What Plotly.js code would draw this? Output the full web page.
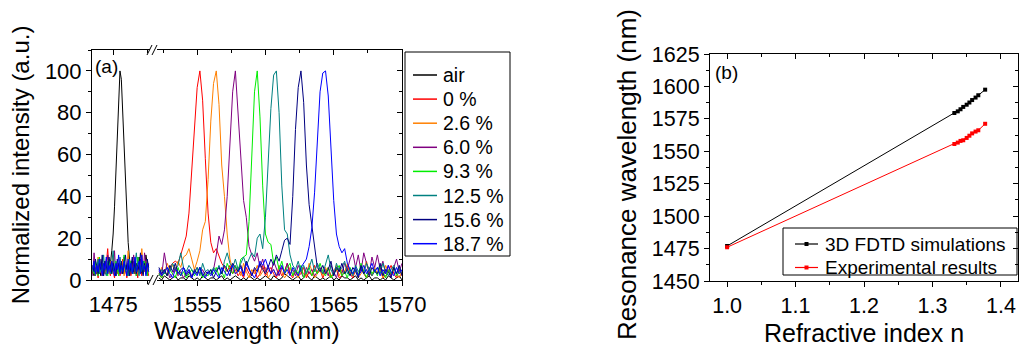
<!DOCTYPE html>
<html>
<head>
<meta charset="utf-8">
<script src="https://cdn.plot.ly/plotly-3.0.1.min.js"></script>
<style>html,body{margin:0;padding:0;background:#fff;}#chart{width:1019px;height:347px;}</style>
</head>
<body>
<div id="chart"></div>
<script>
// ---------- (a) spectra ----------
const seriesNames = ["air", "0 %", "2.6 %", "6.0 %", "9.3 %", "12.5 %", "15.6 %", "18.7 %"];
const seriesColors = ["#000000", "#ff0000", "#ff8000", "#800080", "#00ee00", "#008080", "#000080", "#0000ff"];

// wavelengths of the left (air) segment, nm
const wlAir = [1473.5,1473.6,1473.7,1473.8,1473.9,1474.0,1474.1,1474.2,1474.3,1474.4,
  1474.5,1474.6,1474.7,1474.8,1474.9,1475.0,1475.1,1475.2,1475.3,1475.4,
  1475.5,1475.6,1475.7,1475.8,1475.9,1476.0,1476.1,1476.2,1476.3,1476.4,
  1476.5,1476.6,1476.7,1476.8,1476.9,1477.0,1477.1,1477.2,1477.3,1477.4,1477.5,1477.6];
// wavelengths of the right (solution) segment, nm
const wlShift = [1552.2,1552.4,1552.6,1552.8,1553.0,1553.2,1553.4,1553.6,1553.8,1554.0,
  1554.2,1554.4,1554.6,1554.8,1555.0,1555.2,1555.4,1555.6,1555.8,1556.0,
  1556.2,1556.4,1556.6,1556.8,1557.0,1557.2,1557.4,1557.6,1557.8,1558.0,
  1558.2,1558.4,1558.6,1558.8,1559.0,1559.2,1559.4,1559.6,1559.8,1560.0,
  1560.2,1560.4,1560.6,1560.8,1561.0,1561.2,1561.4,1561.6,1561.8,1562.0,
  1562.2,1562.4,1562.6,1562.8,1563.0,1563.2,1563.4,1563.6,1563.8,1564.0,
  1564.2,1564.4,1564.6,1564.8,1565.0,1565.2,1565.4,1565.6,1565.8,1566.0,
  1566.2,1566.4,1566.6,1566.8,1567.0,1567.2,1567.4,1567.6,1567.8,1568.0,
  1568.2,1568.4,1568.6,1568.8,1569.0,1569.2,1569.4,1569.6,1569.8,1570.0];

// intensities on the left segment
const airL    = [4,2,6,3,8,5,2,7,4,9, 6,3,10,8,14,22,35,52,70,86, 100,96,80,60,42,28,18,10,6,9, 5,3,8,4,11,6,3,9,5,12,7,4];
const c0L     = [3,7,2,5,1,9,4,2,6,3, 8,15,5,2,7,4,1,6,3,8, 2,5,10,3,6,1,4,7,2,5, 9,3,6,1,8,4,2,7,5,3,6,2];
const c26L    = [5,9,3,6,11,4,8,2,7,5, 10,3,6,9,4,12,2,5,8,3, 6,4,9,2,7,5,14,3,8,6, 4,10,2,5,7,3,15,6,4,9,3,7];
const c60L    = [2,13,6,4,8,3,10,5,2,7, 4,12,6,3,9,5,14,2,7,4, 8,3,6,11,5,2,9,4,7,3, 12,6,2,8,4,10,5,3,13,6,2,8];
const c93L    = [6,3,9,5,2,11,4,7,3,8, 6,2,10,5,3,7,4,9,6,2, 8,5,3,12,4,7,2,6,9,3, 5,8,2,11,6,4,7,3,9,5,2,6];
const c125L   = [4,8,2,6,10,3,7,5,12,4, 2,9,6,3,8,14,5,2,7,4, 11,6,3,9,5,7,2,10,4,6, 3,8,13,5,2,7,4,9,6,3,8,5];
const c156L   = [7,4,10,6,3,8,5,12,2,9, 6,4,11,7,3,8,5,2,10,6, 4,9,3,7,12,5,8,2,6,11, 4,9,3,7,5,13,6,2,8,4,10,6];
const c187L   = [5,9,3,7,4,10,6,2,8,5, 11,3,7,4,9,6,2,8,5,12, 3,7,4,9,6,2,10,5,8,3, 7,11,4,6,9,3,12,5,7,2,8,4];

// intensities on the right segment
const airR = [1,0,2,1,0,1,2,0,1,1, 0,2,1,0,1,0,2,1,0,1, 1,0,1,2,0,1,0,1,2,1, 0,1,0,2,1,0,1,0,1,2,
  1,0,2,1,0,1,3,2,1,0, 1,2,0,1,3,1,0,2,1,0, 1,0,1,2,0,1,0,2,1,1, 0,1,2,0,1,0,1,2,0,1, 1,0,1,0,2,1,0,1,2,0];
const c0R = [3,1,5,2,6,8,9,8,12,16, 21,32,52,74,92,100,86,58,32,18, 13,15,11,8,6,4,7,3,5,2,
  4,1,6,3,2,5,1,3,7,2, 4,6,3,1,5,2,4,8,3,1, 5,2,3,6,1,4,2,7,3,5,
  1,4,6,2,3,5,1,2,4,7, 3,1,5,2,6,3,1,4,2,5, 3,6,1,2,4,7,3,1,5,2];
const c26R = [2,6,3,8,5,7,4,9,6,11, 12,15,10,5,9,14,24,28,48,76, 94,100,84,55,40,22,10,5,3,6,
  2,8,4,1,5,3,7,2,4,6, 1,3,5,2,7,4,1,3,6,2, 4,1,5,3,2,8,4,1,3,5,
  2,6,3,1,4,7,2,5,3,8, 4,2,6,1,3,5,9,4,2,6, 3,5,1,7,4,2,6,3,1,4];
const c60R = [4,2,13,5,1,3,6,2,4,1, 3,5,2,4,6,3,5,2,4,3, 5,12,21,17,24,40,68,90,100,80,
  55,38,30,16,12,9,13,6,10,4, 7,3,9,5,2,6,4,8,3,5, 2,7,4,1,6,3,5,2,4,6,
  3,5,2,7,4,1,6,3,8,5, 10,13,6,12,4,13,8,3,11,6, 12,5,9,3,7,2,6,10,4,8];
const c93R = [3,1,4,2,5,3,1,6,2,4, 1,3,5,2,4,6,1,3,2,5, 3,6,2,4,1,8,5,3,7,4,
  10,11,12,28,60,90,100,78,45,22, 18,17,8,11,5,9,3,6,8,2, 5,3,7,1,4,6,2,5,3,8,
  4,2,6,1,3,5,7,2,4,1, 6,3,5,2,8,4,1,6,3,5, 2,7,4,1,5,3,6,2,4,3];
const c125R = [2,5,3,6,4,8,5,7,13,6, 4,7,5,3,6,2,8,4,5,3, 6,4,7,3,9,13,8,6,10,5,
  8,11,7,10,13,11,20,22,15,30, 55,82,98,100,80,45,24,22,12,7, 5,9,4,7,3,6,10,4,8,5,
  3,7,12,5,2,8,4,6,9,3, 5,2,7,4,6,3,8,5,2,4, 6,3,8,4,2,5,7,3,6,4];
const c156R = [6,3,5,2,7,4,8,3,5,6, 2,4,1,5,3,6,2,4,3,5, 1,4,6,3,7,5,2,8,6,4,
  7,3,9,5,2,6,4,8,5,3, 6,10,7,12,9,14,19,20,17,40, 72,92,100,85,55,36,26,14,6,4,
  7,3,5,9,2,6,4,8,3,5, 2,6,4,1,7,3,5,2,6,4, 3,8,2,5,4,1,6,3,7,2];
const c187R = [5,2,4,6,3,1,5,4,2,6, 3,5,1,4,2,6,3,1,4,2, 5,3,1,6,4,2,5,7,3,4,
  6,2,8,5,3,1,4,9,7,10, 6,3,5,2,4,7,3,5,2,6, 4,2,6,8,10,16,25,42,68,90,
  99,100,88,62,38,22,16,13,15,8, 5,3,6,2,4,7,3,5,8,4, 6,2,5,3,7,4,2,6,3,5];

const leftData  = [airL, c0L, c26L, c60L, c93L, c125L, c156L, c187L];
const rightData = [airR, c0R, c26R, c60R, c93R, c125R, c156R, c187R];

// ---------- (b) resonance vs index ----------
const modelNames  = ["3D FDTD simulations", "Experimental results"];
const modelColors = ["#000000", "#ff0000"];
const refIndex = [1.000, 1.332, 1.337, 1.341, 1.345, 1.350, 1.354, 1.358, 1.363, 1.367, 1.377];
const fdtdWl   = [1477, 1579.5, 1580.8, 1582.4, 1584.2, 1585.9, 1587.6, 1589.5, 1591.4, 1593.2, 1597.5];
const expWl    = [1476, 1555.6, 1556.7, 1558.0, 1558.5, 1560.3, 1562.0, 1563.8, 1565.2, 1566.2, 1571.2];

// ---------- layout helpers (pixel -> paper) ----------
const W = 1019, H = 347, ML = 92, MR = 1, MT = 50, MB = 66;
const PW = W - ML - MR, PH = H - MT - MB;
const px = v => (v - ML) / PW;
const py = v => (H - MB - v) / PH;

const FONT = "Liberation Sans, Arial, sans-serif";
const traces = [];
for (let k = 0; k < seriesNames.length; k++) {
  traces.push({x: wlAir, y: leftData[k], xaxis: "x", yaxis: "y", type: "scatter", mode: "lines",
    name: seriesNames[k], legendgroup: "g" + k, showlegend: false,
    line: {color: seriesColors[k], width: 1}});
}
for (let k = 0; k < seriesNames.length; k++) {
  traces.push({x: wlShift, y: rightData[k], xaxis: "x2", yaxis: "y", type: "scatter", mode: "lines",
    name: seriesNames[k], legendgroup: "g" + k, showlegend: false,
    line: {color: seriesColors[k], width: 1}});
}
const modelData = [fdtdWl, expWl];
for (let k = 0; k < 2; k++) {
  traces.push({x: refIndex, y: modelData[k], xaxis: "x5", yaxis: "y2", type: "scatter", mode: "lines+markers",
    name: modelNames[k], showlegend: false,
    line: {color: modelColors[k], width: 1}, marker: {symbol: "square", size: 4, color: modelColors[k]}});
}
// mirror-axis holders (no data)
traces.push({x: [], y: [], xaxis: "x3", yaxis: "y3", showlegend: false, hoverinfo: "skip"});
traces.push({x: [], y: [], xaxis: "x4", yaxis: "y", showlegend: false, hoverinfo: "skip"});
traces.push({x: [], y: [], xaxis: "x6", yaxis: "y4", showlegend: false, hoverinfo: "skip"});

const tickFontL = {family: FONT, size: 22, color: "#000"};
const tickFontR = {family: FONT, size: 21.5, color: "#000"};
const baseAx = {showline: true, linecolor: "#000", linewidth: 1, showgrid: false, zeroline: false,
  ticks: "outside", ticklen: 5, tickwidth: 1, tickcolor: "#000"};
const mirrorAx = {showline: true, linecolor: "#000", linewidth: 1, showgrid: false, zeroline: false,
  ticks: "inside", ticklen: 5, tickwidth: 1, tickcolor: "#000", showticklabels: false};

const rangeL = [1473.45, 1477.7], rangeR = [1552.06, 1570];

// ---------- hand-built legends (shapes + text) ----------
const shapes = [
  // axis-break marks
  {type: "line", xref: "paper", yref: "paper", x0: px(147), y0: py(55), x1: px(152), y1: py(45), line: {color: "#000", width: 1}},
  {type: "line", xref: "paper", yref: "paper", x0: px(152), y0: py(55), x1: px(157), y1: py(45), line: {color: "#000", width: 1}},
  {type: "line", xref: "paper", yref: "paper", x0: px(148), y0: py(285), x1: px(153), y1: py(275), line: {color: "#000", width: 1}},
  {type: "line", xref: "paper", yref: "paper", x0: px(153), y0: py(285), x1: px(158), y1: py(275), line: {color: "#000", width: 1}},
  // legend boxes
  {type: "rect", xref: "paper", yref: "paper", x0: px(405), x1: px(510), y0: py(52), y1: py(256), line: {color: "#000", width: 1}, fillcolor: "rgba(255,255,255,0)"},
  {type: "rect", xref: "paper", yref: "paper", x0: px(783), x1: px(1017), y0: py(228), y1: py(275), line: {color: "#000", width: 1}, fillcolor: "rgba(255,255,255,0)"}
];
const annotations = [
  {text: "(a)", xref: "paper", yref: "paper", x: px(93), y: py(66), xanchor: "left", yanchor: "middle",
    showarrow: false, font: {family: FONT, size: 19}},
  {text: "(b)", xref: "paper", yref: "paper", x: px(713), y: py(72), xanchor: "left", yanchor: "middle",
    showarrow: false, font: {family: FONT, size: 19}},
  {text: "Wavelength (nm)", xref: "paper", yref: "paper", x: px(247), y: py(330), xanchor: "center", yanchor: "middle",
    showarrow: false, font: {family: FONT, size: 24.5}},
  {text: "Resonance wavelength (nm)", xref: "paper", yref: "paper", x: px(627), y: py(175), xanchor: "center", yanchor: "middle",
    textangle: -90, showarrow: false, font: {family: FONT, size: 26}}
];
for (let k = 0; k < seriesNames.length; k++) {
  const yy = 75 + 24.1 * k;
  shapes.push({type: "line", xref: "paper", yref: "paper", x0: px(413), x1: px(437), y0: py(yy), y1: py(yy),
    line: {color: seriesColors[k], width: 1.5}});
  annotations.push({text: seriesNames[k], xref: "paper", yref: "paper", x: px(441), y: py(yy), xanchor: "left", yanchor: "middle",
    showarrow: false, font: {family: FONT, size: 19.5}});
}
for (let k = 0; k < 2; k++) {
  const yy = 244 + 23.5 * k;
  shapes.push({type: "line", xref: "paper", yref: "paper", x0: px(795), x1: px(818), y0: py(yy), y1: py(yy),
    line: {color: modelColors[k], width: 1.2}});
  shapes.push({type: "rect", xref: "paper", yref: "paper", x0: px(804.5), x1: px(808.5), y0: py(yy - 2), y1: py(yy + 2),
    line: {width: 0}, fillcolor: modelColors[k]});
  annotations.push({text: modelNames[k], xref: "paper", yref: "paper", x: px(823), y: py(yy), xanchor: "left", yanchor: "middle",
    showarrow: false, font: {family: FONT, size: 19}});
}

const layout = {
  width: W, height: H,
  margin: {l: ML, r: MR, t: MT, b: MB},
  paper_bgcolor: "#fff", plot_bgcolor: "rgba(0,0,0,0)",
  font: {family: FONT, color: "#000"},
  showlegend: false,
  xaxis: Object.assign({}, baseAx, {domain: [0, px(150)], range: rangeL, anchor: "y", tickfont: tickFontL,
    tickmode: "linear", tick0: 1475, dtick: 5, minor: {dtick: 2.5, tick0: 1475, ticks: "outside", ticklen: 3, tickcolor: "#000"}}),
  xaxis2: Object.assign({}, baseAx, {domain: [px(157), px(402)], range: rangeR, anchor: "y", tickfont: tickFontL,
    tickmode: "linear", tick0: 1555, dtick: 5, minor: {dtick: 2.5, tick0: 1555, ticks: "outside", ticklen: 3, tickcolor: "#000"}}),
  xaxis3: Object.assign({}, mirrorAx, {overlaying: "x", side: "top", anchor: "y", range: rangeL,
    tickmode: "linear", tick0: 1475, dtick: 5, minor: {dtick: 2.5, tick0: 1475, ticks: "inside", ticklen: 3, tickcolor: "#000"}}),
  xaxis4: Object.assign({}, mirrorAx, {overlaying: "x2", side: "top", anchor: "y", range: rangeR,
    tickmode: "linear", tick0: 1555, dtick: 5, minor: {dtick: 2.5, tick0: 1555, ticks: "inside", ticklen: 3, tickcolor: "#000"}}),
  yaxis: Object.assign({}, baseAx, {domain: [py(280), 1], range: [0, 110], anchor: "x", tickfont: tickFontL,
    tickmode: "linear", tick0: 0, dtick: 20, minor: {dtick: 10, ticks: "outside", ticklen: 3, tickcolor: "#000"},
    title: {text: "Normalized intensity (a.u.)", font: {family: FONT, size: 24}, standoff: 8}}),
  yaxis3: Object.assign({}, mirrorAx, {overlaying: "y", side: "right", anchor: "x2", range: [0, 110],
    tickmode: "linear", tick0: 0, dtick: 20, minor: {dtick: 10, ticks: "inside", ticklen: 3, tickcolor: "#000"}}),

  xaxis5: Object.assign({}, baseAx, {domain: [px(710), 1], range: [0.975, 1.425], anchor: "y2", tickfont: tickFontR,
    tickmode: "linear", tick0: 1.0, dtick: 0.1, tickformat: ".1f",
    minor: {dtick: 0.05, ticks: "outside", ticklen: 3, tickcolor: "#000"},
    title: {text: "Refractive index n", font: {family: FONT, size: 25}, standoff: 12}}),
  xaxis6: Object.assign({}, mirrorAx, {overlaying: "x5", side: "top", anchor: "y2", range: [0.975, 1.425],
    tickmode: "linear", tick0: 1.0, dtick: 0.1, minor: {dtick: 0.05, ticks: "inside", ticklen: 3, tickcolor: "#000"}}),
  yaxis2: Object.assign({}, baseAx, {domain: [0, py(54)], range: [1450, 1625], anchor: "x5", tickfont: tickFontR,
    tickmode: "linear", tick0: 1450, dtick: 25, minor: {dtick: 12.5, ticks: "outside", ticklen: 3, tickcolor: "#000"}}),
  yaxis4: Object.assign({}, mirrorAx, {overlaying: "y2", side: "right", anchor: "x5", range: [1450, 1625],
    tickmode: "linear", tick0: 1450, dtick: 25, minor: {dtick: 12.5, ticks: "inside", ticklen: 3, tickcolor: "#000"}}),

  annotations: annotations,
  shapes: shapes
};

Plotly.newPlot("chart", traces, layout, {displayModeBar: false, staticPlot: true});
</script>
</body>
</html>
